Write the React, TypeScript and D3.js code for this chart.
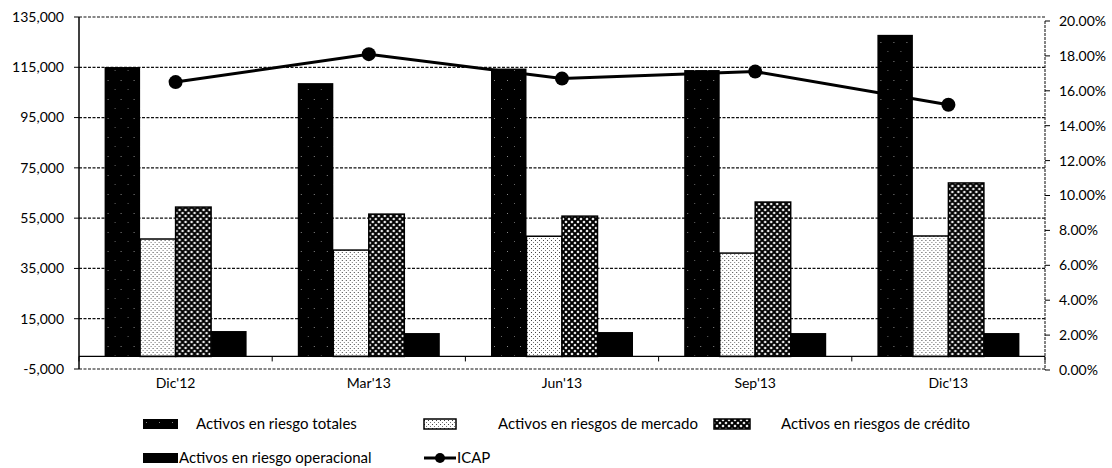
import React from 'react';
import * as d3 from 'd3';

const categories = ["Dic'12", "Mar'13", "Jun'13", "Sep'13", "Dic'13"];
const totales = [115100, 108700, 114500, 113900, 127900];
const mercado = [46700, 42300, 47800, 41100, 47900];
const credito = [59400, 56600, 55800, 61400, 69000];
const operacional = [10100, 9300, 9700, 9300, 9300];
const icap = [0.165, 0.181, 0.167, 0.171, 0.152];

const leftTicks = [-5000, 15000, 35000, 55000, 75000, 95000, 115000, 135000];
const rightTicks = [0, 0.02, 0.04, 0.06, 0.08, 0.1, 0.12, 0.14, 0.16, 0.18, 0.2];

const seriesNames = [
  'Activos en riesgo totales',
  'Activos en riesgos de mercado',
  'Activos en riesgos de crédito',
  'Activos en riesgo operacional',
];
const seriesValues = [totales, mercado, credito, operacional];
const seriesFill = ['url(#pTot)', 'url(#pMer)', 'url(#pCre)', '#000'];
const seriesStroke = ['none', '#000', '#000', 'none'];

const FONT = 'Lato, "Open Sans", sans-serif';

export default function App() {
  const width = 1112;
  const height = 468;
  const left = 79;
  const right = 1045;
  const top = 17;
  const bottom = 369;

  const y = d3.scaleLinear().domain([-5000, 135000]).range([bottom, top]);
  const yR = d3.scaleLinear().domain([0, 0.2]).range([370, 21]);
  const x0 = d3.scaleBand<string>()
    .domain(categories)
    .range([left, right])
    .paddingInner(0.265)
    .paddingOuter(0.1325);
  const x1 = d3.scaleBand<number>()
    .domain(d3.range(seriesNames.length))
    .range([0, x0.bandwidth()]);
  const step = x0.step();

  const fmtL = (v: number) => d3.format(',')(v).replace('\u2212', '-');
  const fmtR = d3.format('.2%');

  const line = d3.line<number>()
    .x((_, i) => x0(categories[i])! + x0.bandwidth() / 2)
    .y(d => yR(d));

  const legendRow1 = 424;
  const legendRow2 = 458;

  return (
    <svg width={width} height={height} style={{ position: 'absolute', left: 0, top: 0, background: '#fff' }}
      fontFamily={FONT}>
      <defs>
        <pattern id="pTot" width="13" height="19" patternUnits="userSpaceOnUse">
          <rect width="13" height="19" fill="#000" />
          <rect x="3" y="4" width="1" height="1" fill="#888" />
          <rect x="10" y="13" width="1" height="1" fill="#666" />
        </pattern>
        <pattern id="pMer" width="4" height="4" patternUnits="userSpaceOnUse">
          <rect width="4" height="4" fill="#fff" />
          <rect x="0" y="0" width="1" height="1" fill="#444" />
          <rect x="2" y="2" width="1" height="1" fill="#777" />
        </pattern>
        <pattern id="pCre" width="6" height="6" patternUnits="userSpaceOnUse">
          <rect width="6" height="6" fill="#fff" />
          <path d="M0,0 L6,6 M6,0 L0,6" stroke="#000" strokeWidth="2" />
        </pattern>
      </defs>

      {/* grid lines */}
      {leftTicks.map(t => (
        <line key={t} x1={left} x2={right} y1={y(t)} y2={y(t)}
          stroke="#111" strokeWidth={1.2} strokeDasharray="3,1.5" />
      ))}

      {/* bars */}
      {categories.map((c, i) => (
        <g key={c} transform={`translate(${x0(c)},0)`}>
          {seriesValues.map((vals, s) => (
            <rect key={s}
              x={x1(s)}
              y={y(vals[i])}
              width={x1.bandwidth()}
              height={y(0) - y(vals[i])}
              fill={seriesFill[s]}
              stroke={seriesStroke[s]}
              strokeWidth={1.5} />
          ))}
        </g>
      ))}

      {/* zero baseline with category ticks */}
      <line x1={left} x2={right} y1={y(0)} y2={y(0)} stroke="#000" strokeWidth={1.2} />
      {d3.range(categories.length + 1).map(i => (
        <line key={i} x1={left + i * step} x2={left + i * step} y1={y(0)} y2={y(0) + 5}
          stroke="#000" strokeWidth={1} />
      ))}

      {/* left axis */}
      <line x1={left} x2={left} y1={top} y2={bottom} stroke="#000" strokeWidth={1.5} />
      {leftTicks.map(t => (
        <g key={t}>
          <line x1={left - 5} x2={left} y1={y(t)} y2={y(t)} stroke="#000" />
          <text x={64} y={y(t)} dy="0.35em" textAnchor="end" fontSize={14} fill="#000">{fmtL(t)}</text>
        </g>
      ))}

      {/* right axis */}
      <line x1={right} x2={right} y1={yR(0.2)} y2={yR(0)} stroke="#333" strokeWidth={1.2} strokeDasharray="3,1" />
      {rightTicks.map(t => (
        <g key={t}>
          <line x1={right} x2={right + 5} y1={yR(t)} y2={yR(t)} stroke="#000" />
          <text x={1059} y={yR(t)} dy="0.35em" textAnchor="start" fontSize={14} fill="#000">{fmtR(t)}</text>
        </g>
      ))}

      {/* ICAP line */}
      <path d={line(icap) || ''} fill="none" stroke="#000" strokeWidth={3} />
      {icap.map((v, i) => (
        <circle key={i} cx={x0(categories[i])! + x0.bandwidth() / 2} cy={yR(v)} r={7} fill="#000" />
      ))}

      {/* category labels */}
      {categories.map(c => (
        <text key={c} x={x0(c)! + x0.bandwidth() / 2} y={383} dy="0.35em" textAnchor="middle" fontSize={14} fill="#000">{c}</text>
      ))}

      {/* legend */}
      <rect x={143} y={legendRow1 - 5} width={35} height={10} fill={seriesFill[0]} />
      <text x={196} y={legendRow1} dy="0.35em" fontSize={15}>{seriesNames[0]}</text>
      <rect x={424} y={legendRow1 - 5} width={32} height={10} fill={seriesFill[1]} stroke="#000" strokeWidth={1.5} />
      <text x={498} y={legendRow1} dy="0.35em" fontSize={15}>{seriesNames[1]}</text>
      <rect x={714} y={legendRow1 - 5} width={36} height={10} fill={seriesFill[2]} stroke="#000" strokeWidth={1.5} />
      <text x={781} y={legendRow1} dy="0.35em" fontSize={15}>{seriesNames[2]}</text>

      <rect x={143} y={legendRow2 - 5} width={35} height={10} fill={seriesFill[3]} />
      <text x={179} y={legendRow2} dy="0.35em" fontSize={15}>{seriesNames[3]}</text>
      <line x1={424} x2={456} y1={legendRow2} y2={legendRow2} stroke="#000" strokeWidth={3} />
      <circle cx={440} cy={legendRow2} r={5} fill="#000" />
      <text x={457} y={legendRow2} dy="0.35em" fontSize={15}>ICAP</text>
    </svg>
  );
}
